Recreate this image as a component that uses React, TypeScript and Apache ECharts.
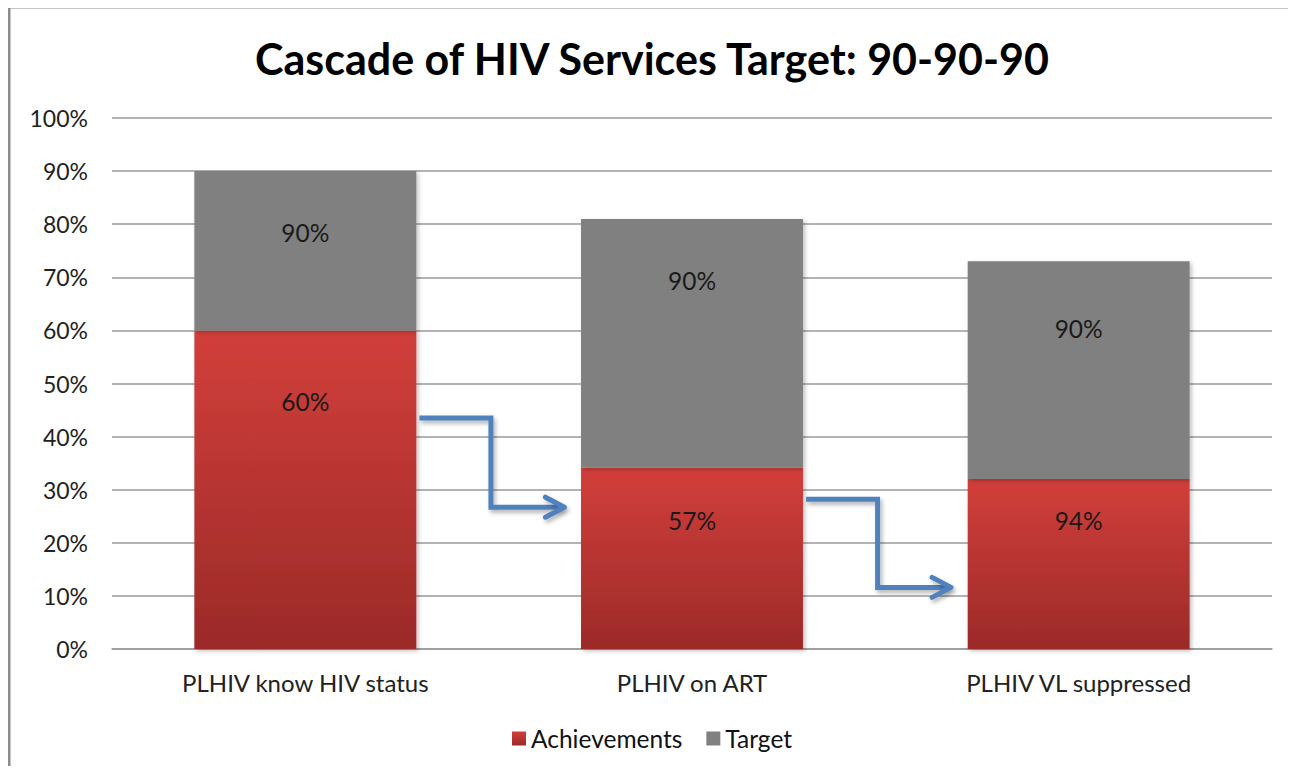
import React, { useEffect, useRef } from "react";
import * as echarts from "echarts";

const categories = ["PLHIV know HIV status", "PLHIV on ART", "PLHIV VL suppressed"];
// bar heights (share of axis, %)
const achievementHeights = [60, 34.2, 32];
const targetHeights = [30, 46.8, 41];
// printed labels
const achievementLabels = ["60%", "57%", "94%"];
const targetLabels = ["90%", "90%", "90%"];
const yTicks = [0, 10, 20, 30, 40, 50, 60, 70, 80, 90, 100];
// arrows: [from category, start level %, end level %]
const arrowData = [
  [0, 43.5, 26.7],
  [1, 28.2, 11.6],
];

const FONT = "Lato, 'Open Sans', sans-serif";
const achLabelDist = [59, 41, 29];
const tgtLabelDist = [49, 49, 55];

export default function App() {
  const ref = useRef<HTMLDivElement>(null);
  useEffect(() => {
    document.documentElement.style.overflow = "hidden";
    document.body.style.overflow = "hidden";
    if (!ref.current) return;
    const chart = echarts.init(ref.current, null, { renderer: "svg" });
    const redGrad = new echarts.graphic.LinearGradient(0, 0, 0, 1, [
      { offset: 0, color: "#d23f3b" },
      { offset: 1, color: "#9b2a28" },
    ]);
    const barShadow = {
      shadowBlur: 4,
      shadowOffsetX: 2,
      shadowOffsetY: 2,
      shadowColor: "rgba(0,0,0,0.25)",
    };
    chart.setOption({
      animation: false,
      backgroundColor: "#ffffff",
      graphic: [
        { type: "rect", shape: { x: 0, y: 1, width: 1288, height: 2.5 }, style: { fill: "#8c8c8c" }, silent: true },
        { type: "rect", shape: { x: 0, y: 1, width: 2.5, height: 780 }, style: { fill: "#8c8c8c" }, silent: true },
      ],
      title: {
        text: "Cascade of HIV Services Target: 90-90-90",
        left: "center",
        top: 27,
        textStyle: { fontFamily: FONT, fontWeight: "bold", fontSize: 43, color: "#000" },
      },
      legend: {
        data: ["Achievements", "Target"],
        bottom: 18,
        left: "center",
        itemWidth: 14,
        itemHeight: 14,
        itemGap: 24,
        icon: "rect",
        textStyle: { fontFamily: FONT, fontSize: 24.5, color: "#111" },
      },
      grid: { left: 104, right: 24, top: 113, bottom: 125, containLabel: false },
      xAxis: {
        type: "category",
        data: categories,
        axisLine: { lineStyle: { color: "#9a9a9a", width: 1.5 } },
        axisTick: { show: false },
        axisLabel: { fontFamily: FONT, fontSize: 24, color: "#222", margin: 21 },
      },
      yAxis: {
        type: "value",
        min: yTicks[0],
        max: yTicks[yTicks.length - 1],
        interval: 10,
        axisLine: { show: false },
        axisTick: { show: false },
        axisLabel: { formatter: "{value}%", fontFamily: FONT, fontSize: 23, color: "#222", margin: 24 },
        splitLine: { lineStyle: { color: "#9a9a9a", width: 1.5 } },
      },
      series: [
        {
          name: "Achievements",
          type: "bar",
          stack: "s",
          barWidth: "57.4%",
          itemStyle: { color: redGrad, ...barShadow },
          data: achievementHeights.map((v, i) => ({
            value: v,
            label: {
              show: true,
              position: "insideTop",
              distance: achLabelDist[i],
              formatter: achievementLabels[i],
              fontFamily: FONT,
              fontSize: 24.5,
              color: "#1a1a1a",
            },
          })),
        },
        {
          name: "Target",
          type: "bar",
          stack: "s",
          itemStyle: { color: "#808080", ...barShadow },
          data: targetHeights.map((v, i) => ({
            value: v,
            label: {
              show: true,
              position: "insideTop",
              distance: tgtLabelDist[i],
              formatter: targetLabels[i],
              fontFamily: FONT,
              fontSize: 24.5,
              color: "#1a1a1a",
            },
          })),
        },
        {
          name: "arrows",
          type: "custom",
          z: 10,
          encode: { x: 0, y: [1, 2] },
          data: arrowData,
          renderItem: (params: any, api: any) => {
            const cat = api.value(0);
            const p1 = api.coord([cat, api.value(1)]);
            const p2 = api.coord([cat, api.value(2)]);
            const bw = api.size([1, 0])[0];
            const x0 = p1[0] + 0.295 * bw;
            const xc = p1[0] + 0.48 * bw;
            const xt = p1[0] + 0.67 * bw;
            const stroke = {
              stroke: "#4f81bd",
              lineWidth: 5,
              fill: null,
              lineJoin: "miter",
              shadowBlur: 4,
              shadowOffsetX: 2,
              shadowOffsetY: 3,
              shadowColor: "rgba(0,0,0,0.3)",
            };
            return {
              type: "group",
              children: [
                {
                  type: "polyline",
                  shape: {
                    points: [
                      [x0, p1[1]],
                      [xc, p1[1]],
                      [xc, p2[1]],
                      [xt - 3, p2[1]],
                    ],
                  },
                  style: stroke,
                },
                {
                  type: "polyline",
                  shape: {
                    points: [
                      [xt - 19, p2[1] - 10],
                      [xt, p2[1]],
                      [xt - 19, p2[1] + 10],
                    ],
                  },
                  style: { ...stroke, lineCap: "round", lineJoin: "round" },
                },
              ],
            };
          },
        },
      ],
    });
    return () => chart.dispose();
  }, []);

  return (
    <div style={{ position: "relative", width: 1280, height: 761, marginTop: -3 }}>
      <div
        ref={ref}
        style={{ position: "absolute", left: 0, top: 0, width: 1288, height: 769, zIndex: 5, background: "#fff" }}
      />
    </div>
  );
}
